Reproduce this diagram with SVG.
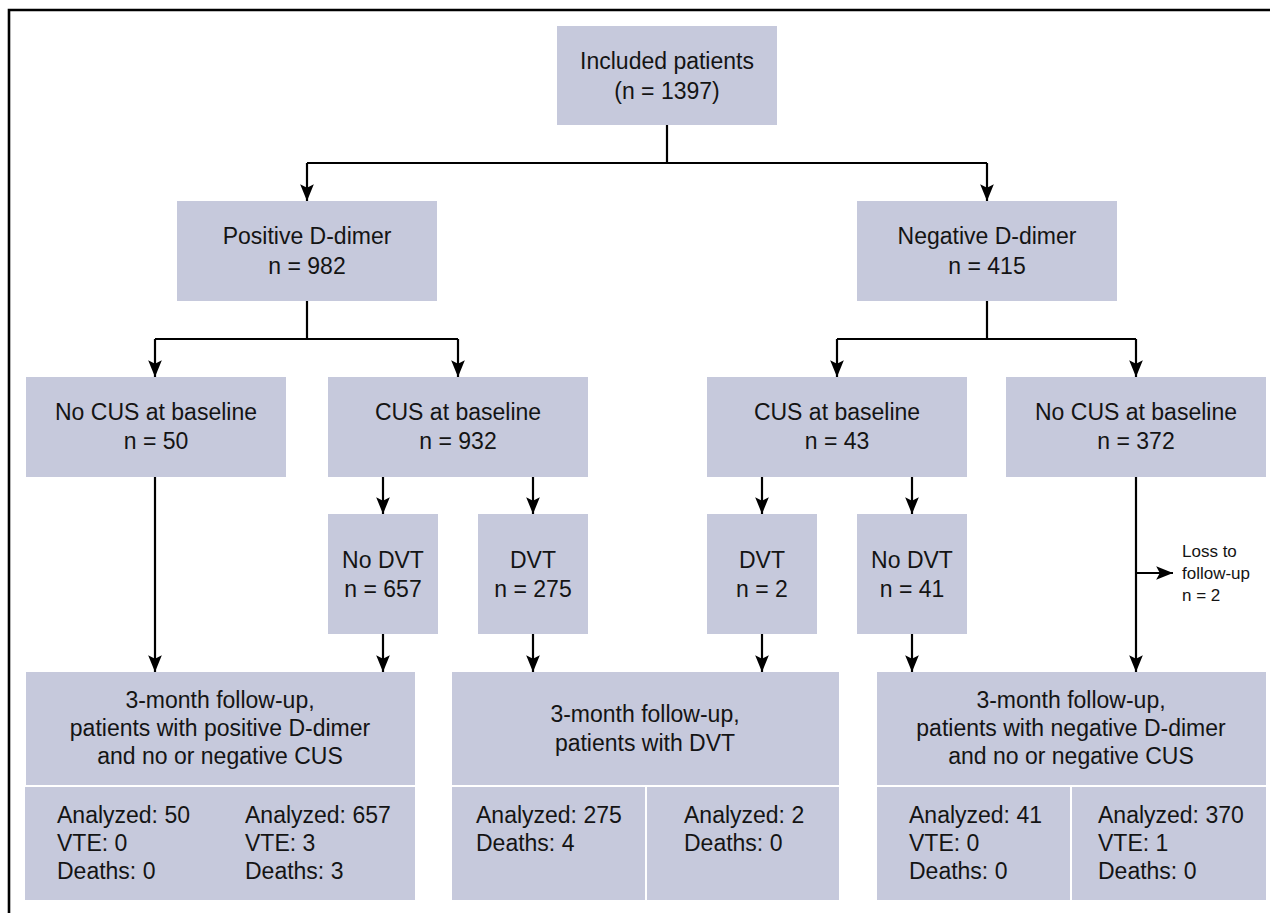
<svg xmlns="http://www.w3.org/2000/svg" width="1270" height="913" viewBox="0 0 1270 913">
<style>
.box{fill:#c6c9dc}
.t{font-family:"Liberation Sans",Arial,sans-serif;font-size:23px;fill:#141414}
.c{text-anchor:middle}
.s{font-size:17px}
.ln{fill:none;stroke:#000;stroke-width:2.2}
.sep{stroke:#fff;stroke-width:2}
</style>
<defs>
<marker id="ah" markerUnits="userSpaceOnUse" markerWidth="20" markerHeight="20" viewBox="-17 -8 19 16" refX="0" refY="0" orient="auto">
<path d="M0,0 L-16,-6.5 L-12.5,0 L-16,6.5 Z" fill="#000"/>
</marker>
</defs>
<rect x="0" y="0" width="1270" height="913" fill="#fff"/>
<path d="M9,913 V10 H1270" fill="none" stroke="#000" stroke-width="2.6"/>

<g id="included">
<rect class="box" x="557" y="26" width="220" height="99"/>
<text class="t c" x="667" y="69">Included patients</text>
<text class="t c" x="667" y="99">(n = 1397)</text>
</g>
<g id="positive">
<rect class="box" x="177" y="201" width="260" height="100"/>
<text class="t c" x="307" y="244">Positive D-dimer</text>
<text class="t c" x="307" y="274">n = 982</text>
</g>
<g id="negative">
<rect class="box" x="857" y="201" width="260" height="100"/>
<text class="t c" x="987" y="244">Negative D-dimer</text>
<text class="t c" x="987" y="274">n = 415</text>
</g>
<g id="nocus50">
<rect class="box" x="26" y="377" width="260" height="100"/>
<text class="t c" x="156" y="420">No CUS at baseline</text>
<text class="t c" x="156" y="449">n = 50</text>
</g>
<g id="cus932">
<rect class="box" x="328" y="377" width="260" height="100"/>
<text class="t c" x="458" y="420">CUS at baseline</text>
<text class="t c" x="458" y="449">n = 932</text>
</g>
<g id="cus43">
<rect class="box" x="707" y="377" width="260" height="100"/>
<text class="t c" x="837" y="420">CUS at baseline</text>
<text class="t c" x="837" y="449">n = 43</text>
</g>
<g id="nocus372">
<rect class="box" x="1006" y="377" width="260" height="100"/>
<text class="t c" x="1136" y="420">No CUS at baseline</text>
<text class="t c" x="1136" y="449">n = 372</text>
</g>
<g id="nodvt657">
<rect class="box" x="328" y="514" width="110" height="120"/>
<text class="t c" x="383" y="568">No DVT</text>
<text class="t c" x="383" y="597">n = 657</text>
</g>
<g id="dvt275">
<rect class="box" x="478" y="514" width="110" height="120"/>
<text class="t c" x="533" y="568">DVT</text>
<text class="t c" x="533" y="597">n = 275</text>
</g>
<g id="dvt2">
<rect class="box" x="707" y="514" width="110" height="120"/>
<text class="t c" x="762" y="568">DVT</text>
<text class="t c" x="762" y="597">n = 2</text>
</g>
<g id="nodvt41">
<rect class="box" x="857" y="514" width="110" height="120"/>
<text class="t c" x="912" y="568">No DVT</text>
<text class="t c" x="912" y="597">n = 41</text>
</g>
<g id="loss">
<text class="t s" x="1182" y="557">Loss to</text>
<text class="t s" x="1182" y="579">follow-up</text>
<text class="t s" x="1182" y="601">n = 2</text>
</g>

<g id="followup-positive">
<rect class="box" x="26" y="672" width="389" height="113"/>
<rect class="box" x="25" y="787" width="390" height="113"/>
<text class="t c" x="220" y="708">3-month follow-up,</text>
<text class="t c" x="220" y="736">patients with positive D-dimer</text>
<text class="t c" x="220" y="764">and no or negative CUS</text>
<text class="t" x="57" y="823">Analyzed: 50</text>
<text class="t" x="57" y="851">VTE: 0</text>
<text class="t" x="57" y="879">Deaths: 0</text>
<text class="t" x="245" y="823">Analyzed: 657</text>
<text class="t" x="245" y="851">VTE: 3</text>
<text class="t" x="245" y="879">Deaths: 3</text>
</g>
<g id="followup-dvt">
<rect class="box" x="452" y="672" width="387" height="113"/>
<rect class="box" x="452" y="787" width="387" height="113"/>
<line class="sep" x1="646" y1="787" x2="646" y2="900"/>
<text class="t c" x="645" y="722">3-month follow-up,</text>
<text class="t c" x="645" y="751">patients with DVT</text>
<text class="t" x="476" y="823">Analyzed: 275</text>
<text class="t" x="476" y="851">Deaths: 4</text>
<text class="t" x="684" y="823">Analyzed: 2</text>
<text class="t" x="684" y="851">Deaths: 0</text>
</g>
<g id="followup-negative">
<rect class="box" x="877" y="672" width="389" height="113"/>
<rect class="box" x="877" y="787" width="389" height="113"/>
<line class="sep" x1="1071" y1="787" x2="1071" y2="900"/>
<text class="t c" x="1071" y="708">3-month follow-up,</text>
<text class="t c" x="1071" y="736">patients with negative D-dimer</text>
<text class="t c" x="1071" y="764">and no or negative CUS</text>
<text class="t" x="909" y="823">Analyzed: 41</text>
<text class="t" x="909" y="851">VTE: 0</text>
<text class="t" x="909" y="879">Deaths: 0</text>
<text class="t" x="1098" y="823">Analyzed: 370</text>
<text class="t" x="1098" y="851">VTE: 1</text>
<text class="t" x="1098" y="879">Deaths: 0</text>
</g>

<g id="connectors">
<path class="ln" d="M667,125 V163 M307,163 H987"/>
<path class="ln" d="M307,163 V201" marker-end="url(#ah)"/>
<path class="ln" d="M987,163 V201" marker-end="url(#ah)"/>
<path class="ln" d="M307,301 V339 M155,339 H458"/>
<path class="ln" d="M155,339 V377" marker-end="url(#ah)"/>
<path class="ln" d="M458,339 V377" marker-end="url(#ah)"/>
<path class="ln" d="M987,301 V339 M837,339 H1136"/>
<path class="ln" d="M837,339 V377" marker-end="url(#ah)"/>
<path class="ln" d="M1136,339 V377" marker-end="url(#ah)"/>
<path class="ln" d="M383,477 V514" marker-end="url(#ah)"/>
<path class="ln" d="M533,477 V514" marker-end="url(#ah)"/>
<path class="ln" d="M762,477 V514" marker-end="url(#ah)"/>
<path class="ln" d="M912,477 V514" marker-end="url(#ah)"/>
<path class="ln" d="M155,477 V672" marker-end="url(#ah)"/>
<path class="ln" d="M383,634 V672" marker-end="url(#ah)"/>
<path class="ln" d="M533,634 V672" marker-end="url(#ah)"/>
<path class="ln" d="M762,634 V672" marker-end="url(#ah)"/>
<path class="ln" d="M912,634 V672" marker-end="url(#ah)"/>
<path class="ln" d="M1136,477 V672" marker-end="url(#ah)"/>
<path class="ln" d="M1136,573 H1173" marker-end="url(#ah)"/>
</g>
</svg>
